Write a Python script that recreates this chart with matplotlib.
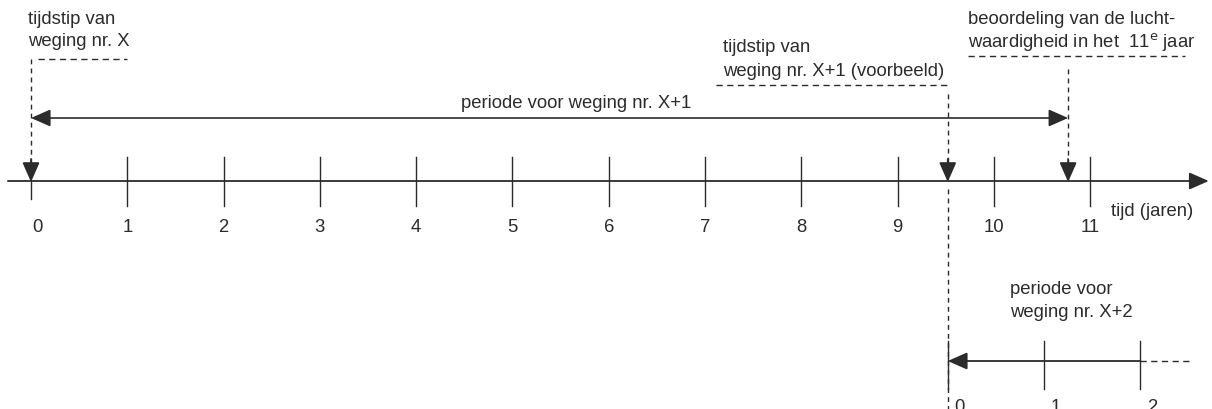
import matplotlib
matplotlib.use("Agg")
import matplotlib.pyplot as plt
from matplotlib.patches import FancyArrowPatch

# ---- data ----
main_ticks = [0, 1, 2, 3, 4, 5, 6, 7, 8, 9, 10, 11]
main_labels = ["0", "1", "2", "3", "4", "5", "6", "7", "8", "9", "10", "11"]
weging_x = 0.0            # tijdstip van weging nr. X
weging_x1 = 9.52          # tijdstip van weging nr. X+1 (voorbeeld)
beoordeling = 10.77       # beoordeling in het 11e jaar
sub_ticks = [0, 1, 2]     # tweede tijdas (periode voor weging nr. X+2)
sub_labels = ["0", "1", "2"]
axis_label = "tijd (jaren)"

FONT = "Liberation Sans"
C = "#2b2b2b"
FS = 13.3

fig = plt.figure(figsize=(12.12, 4.10), dpi=100)
ax = fig.add_axes([0, 0, 1, 1])
# x in years, y in layout units (pixel-like, top = 0)
ax.set_xlim(-0.322, 12.264)
ax.set_ylim(410, 0)
ax.axis("off")

Y0 = 182      # main axis
Y2 = 362      # second axis

def arrow(x0, y0, x1, y1, lw=1.3):
    ax.add_patch(FancyArrowPatch((x0, y0), (x1, y1), arrowstyle="-|>,head_length=0.75,head_width=0.33",
                                 mutation_scale=16, color=C, lw=lw, shrinkA=0, shrinkB=0))

def txt(x, y, s, ha="left"):
    ax.text(x, y, s, ha=ha, va="center", fontsize=FS, family=FONT, color=C)

dash_h = (0, (4.5, 3.2))
dash_v = (0, (3.5, 3.0))

# main axis
arrow(-0.24, Y0, 12.23, Y0)
for t, lab in zip(main_ticks, main_labels):
    if t == 0:
        ax.plot([t, t], [Y0, 200], color=C, lw=1.0)
    else:
        ax.plot([t, t], [158, 207], color=C, lw=1.0)
    txt(t + (0.07 if t == 0 else 0.0), 228, lab, ha="center")
txt(11.22, 212, axis_label)

# weging nr. X
txt(weging_x - 0.03, 20, "tijdstip van")
txt(weging_x - 0.03, 42, "weging nr. X")
ax.plot([weging_x + 0.07, weging_x + 1.0], [60, 60], color=C, lw=1.0, ls=dash_h)
ax.plot([weging_x, weging_x], [60, 168], color=C, lw=1.0, ls=dash_v)
arrow(weging_x, 160, weging_x, Y0 + 1)

# periode voor weging nr. X+1 (double arrow)
ax.add_patch(FancyArrowPatch((weging_x, 119), (beoordeling, 119),
                             arrowstyle="<|-|>,head_length=0.75,head_width=0.33",
                             mutation_scale=16, color=C, lw=1.2, shrinkA=0, shrinkB=0))
txt(4.47, 103, "periode voor weging nr. X+1")

# weging nr. X+1
txt(weging_x1 - 2.33, 48, "tijdstip van")
txt(weging_x1 - 2.33, 72, "weging nr. X+1 (voorbeeld)")
ax.plot([weging_x1 - 2.41, weging_x1], [86, 86], color=C, lw=1.0, ls=dash_h)
ax.plot([weging_x1, weging_x1], [95, 168], color=C, lw=1.0, ls=dash_v)
arrow(weging_x1, 160, weging_x1, Y0 + 1)
ax.plot([weging_x1, weging_x1], [190, 410], color=C, lw=1.0, ls=dash_v)

# beoordeling 11e jaar
txt(beoordeling - 1.04, 20, "beoordeling van de lucht-")
txt(beoordeling - 1.04, 42, "waardigheid in het  11$^{\\mathrm{e}}$ jaar")
ax.plot([beoordeling - 1.04, beoordeling + 1.21], [57, 57], color=C, lw=1.0, ls=dash_h)
ax.plot([beoordeling, beoordeling], [70, 168], color=C, lw=1.0, ls=dash_v)
arrow(beoordeling, 160, beoordeling, Y0 + 1)

# second axis (periode voor weging nr. X+2)
sub_x = [weging_x1 + t for t in sub_ticks]
arrow(sub_x[-1], Y2, sub_x[0], Y2)
ax.plot([sub_x[-1], sub_x[-1] + 0.52], [Y2, Y2], color=C, lw=1.0, ls=dash_h)
for x, lab in zip(sub_x, sub_labels):
    ax.plot([x, x], [342, 390], color=C, lw=1.0)
    txt(x + 0.12, 408, lab, ha="center")
txt(weging_x1 + 0.65, 290, "periode voor")
txt(weging_x1 + 0.65, 313, "weging nr. X+2")

fig.savefig("out.png", dpi=100, facecolor="white")
